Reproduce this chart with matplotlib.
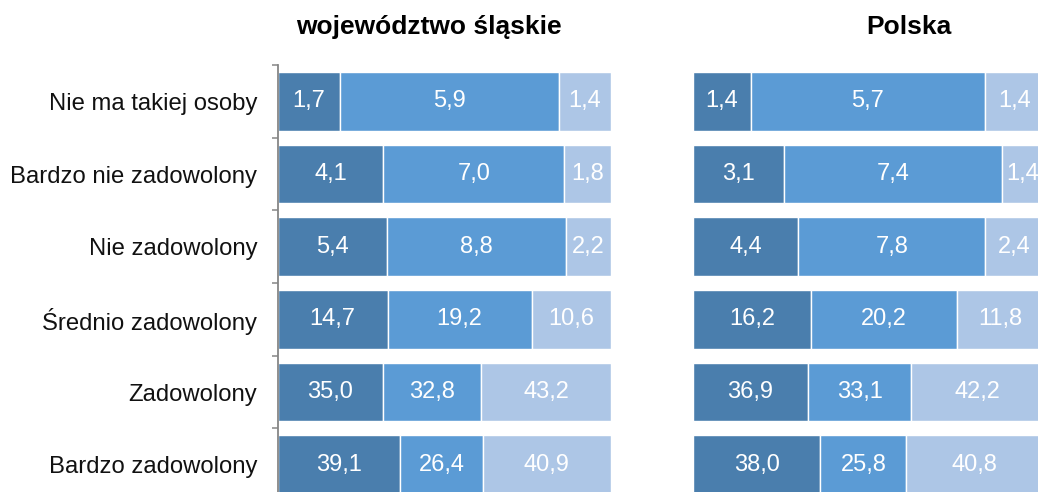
import matplotlib
matplotlib.use("Agg")
import matplotlib.pyplot as plt
import numpy as np

plt.rcParams['font.family'] = ['Liberation Sans', 'DejaVu Sans']

categories = ["Nie ma takiej osoby", "Bardzo nie zadowolony", "Nie zadowolony",
              "Średnio zadowolony", "Zadowolony", "Bardzo zadowolony"]
slaskie_s1 = [1.7, 4.1, 5.4, 14.7, 35.0, 39.1]
slaskie_s2 = [5.9, 7.0, 8.8, 19.2, 32.8, 26.4]
slaskie_s3 = [1.4, 1.8, 2.2, 10.6, 43.2, 40.9]
polska_s1 = [1.4, 3.1, 4.4, 16.2, 36.9, 38.0]
polska_s2 = [5.7, 7.4, 7.8, 20.2, 33.1, 25.8]
polska_s3 = [1.4, 1.4, 2.4, 11.8, 42.2, 40.8]
titles = ["województwo śląskie", "Polska"]

colors = ["#4A7EAD", "#5B9BD5", "#ADC6E6"]

W, H = 1038, 492
fig = plt.figure(figsize=(W / 100, H / 100), dpi=100)

def px_axes(x0, x1, y0, y1):
    return fig.add_axes([x0 / W, 1 - y1 / H, (x1 - x0) / W, (y1 - y0) / H])

ax_l = px_axes(277.5, 611, 65, 501)
ax_r = px_axes(693, 1043, 65, 501)

def draw(ax, series, show_axis):
    arr = np.array(series, dtype=float)
    tot = arr.sum(axis=0)
    frac = arr / tot
    y = np.arange(len(categories))
    left = np.zeros(len(categories))
    for i in range(arr.shape[0]):
        ax.barh(y, frac[i], left=left, height=0.81, color=colors[i],
                edgecolor="white", linewidth=1.0)
        for j in range(len(categories)):
            ax.text(left[j] + frac[i][j] / 2, y[j],
                    f"{arr[i][j]:.1f}".replace(".", ","),
                    ha="center", va="center", color="white", fontsize=17)
        left += frac[i]
    ax.set_xlim(0, 1)
    ax.set_ylim(len(categories) - 0.5, -0.5)
    ax.set_xticks([])
    for s in ["top", "right", "bottom"]:
        ax.spines[s].set_visible(False)
    if show_axis:
        ax.spines["left"].set_color("#868686")
        ax.spines["left"].set_linewidth(1.3)
        ax.set_yticks(y)
        ax.set_yticklabels(categories, fontsize=17.2, color="#111111")
        ax.tick_params(axis="y", which="major", length=0, pad=14.5)
        ax.set_yticks(np.arange(-0.5, len(categories), 1.0), minor=True)
        ax.tick_params(axis="y", which="minor", length=4, width=1.1,
                       color="#868686", direction="out")
    else:
        ax.spines["left"].set_visible(False)
        ax.set_yticks([])

draw(ax_l, [slaskie_s1, slaskie_s2, slaskie_s3], True)
draw(ax_r, [polska_s1, polska_s2, polska_s3], False)

fig.text(428.5 / W, 1 - 27 / H, titles[0], ha="center", va="center",
         fontsize=19, fontweight="bold")
fig.text(908.5 / W, 1 - 27 / H, titles[1], ha="center", va="center",
         fontsize=19, fontweight="bold")

fig.savefig("out.png", dpi=100)
